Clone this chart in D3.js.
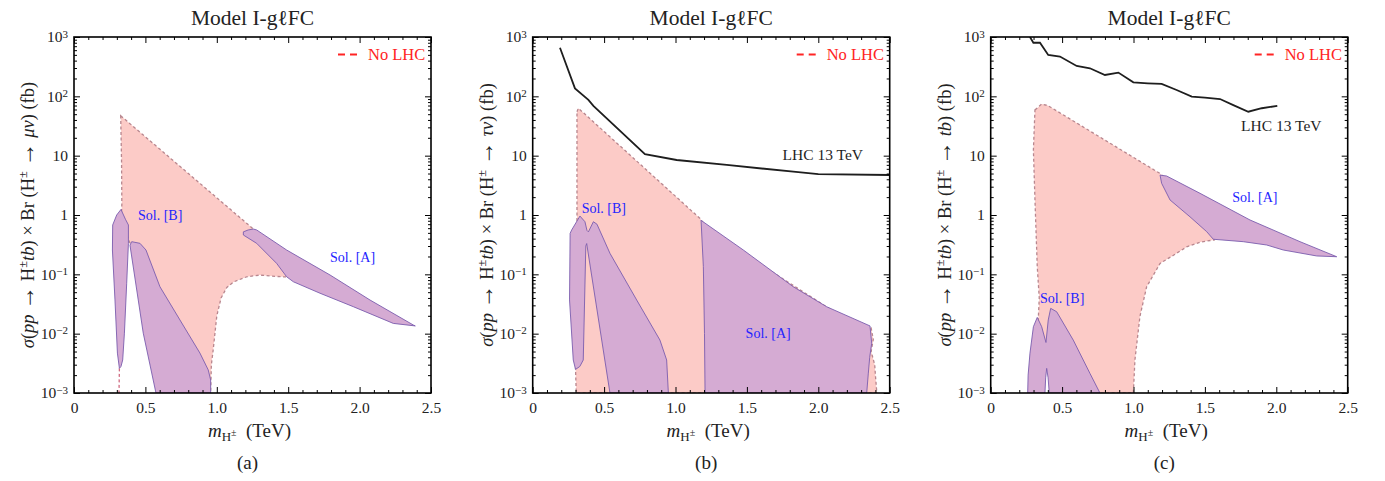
<!DOCTYPE html>
<html>
<head>
<meta charset="utf-8">
<script src="https://cdn.jsdelivr.net/npm/d3@7"></script>
<style>
body { margin: 0; background: #fff; }
svg { font-family: "Liberation Serif", "DejaVu Serif", serif; }
</style>
</head>
<body>
<div id="hook-chart"></div>
<script>
'use strict';

// axis ticks
var xTicks = [0, 0.5, 1.0, 1.5, 2.0, 2.5];
var xTickLabels = ['0', '0.5', '1.0', '1.5', '2.0', '2.5'];
var yTicks = [1e-3, 1e-2, 1e-1, 1, 10, 100, 1000];
var yTickLabels = [['10', '\u22123'], ['10', '\u22122'], ['10', '\u22121'], ['1', ''], ['10', ''], ['10', '2'], ['10', '3']];

var panelTags = ['(a)', '(b)', '(c)'];
var decayChannels = ['\u03bc\u03bd', '\u03c4\u03bd', 'tb'];

// (a)  H -> mu nu   [TeV, fb]
var noLhcA = [[0.327,47],[1.26,0.57],[1.45,0.17],[1.50,0.09],[1.42,0.092],[1.30,0.097],[1.21,0.091],
  [1.12,0.075],[1.07,0.06],[1.03,0.04],[1.0,0.02],[0.975,0.0054],[0.962,0.003],[0.957,0.001],
  [0.6,0.001],[0.5,0.01],[0.40,0.30],[0.33,0.8],[0.335,1.5],[0.333,8]];
var tailA = [[0.318,0.0026],[0.315,0.001]];
var solAa = [[1.186,0.52],[1.22,0.56],[1.256,0.58],[1.279,0.56],[1.489,0.257],[1.793,0.0975],
  [2.073,0.0369],[2.376,0.014],[2.39,0.0135],[2.236,0.0149],[1.956,0.0285],[1.723,0.048],
  [1.536,0.075],[1.489,0.091],[1.419,0.153],[1.279,0.333],[1.186,0.46]];
var solBa1 = [[0.329,1.24],[0.36,0.85],[0.381,0.68],[0.381,0.333],[0.369,0.0708],[0.353,0.0102],
  [0.341,0.0036],[0.329,0.0028],[0.318,0.0026],[0.304,0.0047],[0.287,0.037],[0.269,0.257],
  [0.271,0.68],[0.299,1.0]];
var solBa2 = [[0.404,0.355],[0.462,0.333],[0.504,0.257],[0.602,0.0617],[0.742,0.017],[0.882,0.0047],
  [0.94,0.00245],[0.957,0.00166],[0.957,0.001],[0.574,0.001],[0.485,0.0102],[0.392,0.31]];

// (b)  H -> tau nu
var lhcB = [[0.191,660],[0.296,136],[0.39,87],[0.425,69],[0.786,10.6],[1.008,8.45],[1.359,6.97],
  [1.825,5.37],[2.0,4.9],[2.5,4.72]];
var noLhcB = [[0.31,55],[0.32,63],[1.17,0.88],[1.25,0.5],[2.3,0.012],[2.37,0.0125],[2.385,0.008],
  [2.37,0.005],[2.395,0.003],[2.40,0.002],[2.41,0.001],[0.305,0.001],[0.30,0.0025],[0.31,0.5]];
var solAb = [[1.183,0.80],[1.475,0.257],[1.825,0.0617],[2.059,0.0284],[2.362,0.0135],[2.374,0.0069],
  [2.36,0.004],[2.35,0.0021],[2.339,0.001],[1.207,0.001],[1.203,0.01],[1.195,0.135],[1.179,0.82]];
var solBb = [[0.30,0.0025],[0.284,0.0036],[0.258,0.037],[0.262,0.49],[0.273,0.56],[0.331,0.96],
  [0.366,0.77],[0.38,0.55],[0.39,0.52],[0.425,0.77],[0.45,0.7],[0.541,0.226],[0.728,0.037],
  [0.891,0.0078],[0.938,0.0036],[0.95,0.001],[0.541,0.001],[0.378,0.33],[0.372,0.3],
  [0.354,0.0036],[0.33,0.0028]];

// (c)  H -> t b
var lhcC = [[0.275,1000],[0.299,800],[0.345,800],[0.403,498],[0.485,468],[0.602,325],[0.695,297],
  [0.80,229],[0.894,251],[0.999,172],[1.10,166],[1.197,162],[1.302,128],[1.408,99],[1.50,95],
  [1.606,90],[1.699,71],[1.804,55],[1.898,63],[2.007,69]];
var noLhcC = [[0.31,59],[0.357,74],[0.40,70],[1.186,5.0],[1.22,4.2],[1.55,0.5],[1.565,0.38],
  [1.47,0.35],[1.372,0.29],[1.28,0.21],[1.186,0.153],[1.092,0.0617],[1.045,0.0195],[1.01,0.0036],
  [0.999,0.001],[0.74,0.001],[0.58,0.005],[0.43,0.018],[0.39,0.005],[0.33,0.012],[0.34,0.04],
  [0.326,0.135],[0.31,1.8],[0.299,12.4]];
var solAc = [[1.186,4.7],[1.232,4.54],[1.466,2.32],[1.816,0.824],[2.166,0.355],[2.423,0.198],
  [2.283,0.204],[2.049,0.257],[1.933,0.312],[1.769,0.355],[1.559,0.39],[1.512,0.525],[1.396,0.93],
  [1.256,1.79],[1.197,3.42]];
var solBc = [[0.259,0.001],[0.262,0.002],[0.275,0.0047],[0.299,0.0131],[0.326,0.0188],[0.357,0.0131],
  [0.387,0.0071],[0.403,0.017],[0.42,0.0267],[0.462,0.0234],[0.578,0.0078],[0.695,0.00214],
  [0.765,0.001],[0.41,0.001],[0.402,0.0018],[0.392,0.0026],[0.385,0.0018],[0.38,0.001]];

// text labels [x TeV, y fb]
var solALabelPos = [[1.793,0.163],[1.491,0.0083],[1.692,1.67]];
var solBLabelPos = [[0.448,0.82],[0.343,1.07],[0.345,0.033]];
var lhcLabelPos = [null,[1.75,8.45],[1.753,26]];

var panels = [
  {left: 74, noLhc: noLhcA, tail: tailA, sols: [solAa, solBa1, solBa2], lhc: null},
  {left: 532.7, noLhc: noLhcB, tail: null, sols: [solAb, solBb], lhc: lhcB},
  {left: 990.7, noLhc: noLhcC, tail: null, sols: [solAc, solBc], lhc: lhcC}
];

var options = {
  width: 1385,
  height: 481,
  top: 37,
  plotW: 357,
  plotH: 356
};

var pinkFill = '#fccbc7',
  pinkEdge = '#b8868e',
  solFill = '#d5abd3',
  solEdge = '#7a5cae',
  blue = '#2424ff',
  red = '#ff2424';

var svg = d3.select('#hook-chart')
  .append('svg')
  .attr('width', options.width)
  .attr('height', options.height);

function drawPanel(p, k) {
  var g = svg.append('g')
    .attr('transform', 'translate(' + p.left + ',' + options.top + ')');

  var x = d3.scaleLinear().domain([0, 2.5]).range([0, options.plotW]);
  var y = d3.scaleLog().domain([1e-3, 1e3]).range([options.plotH, 0]);

  var clipId = 'clip-' + k;
  g.append('clipPath').attr('id', clipId)
    .append('rect').attr('width', options.plotW).attr('height', options.plotH);

  var area = g.append('g').attr('clip-path', 'url(#' + clipId + ')');
  var line = d3.line().x(function(d) { return x(d[0]); }).y(function(d) { return y(d[1]); });
  var closed = d3.line().curve(d3.curveLinearClosed)
    .x(function(d) { return x(d[0]); }).y(function(d) { return y(d[1]); });

  area.append('path')
    .attr('d', closed(p.noLhc))
    .style('fill', pinkFill)
    .style('stroke', pinkEdge)
    .style('stroke-width', 1.3)
    .style('stroke-dasharray', '3,2.5');

  if (p.tail) {
    area.append('path')
      .attr('d', line(p.tail))
      .style('fill', 'none')
      .style('stroke', '#d06a80')
      .style('stroke-width', 1.3)
      .style('stroke-dasharray', '3,2.5');
  }

  p.sols.forEach(function(s) {
    area.append('path')
      .attr('d', closed(s))
      .style('fill', solFill)
      .style('stroke', solEdge)
      .style('stroke-width', 0.9);
  });

  if (p.lhc) {
    area.append('path')
      .attr('d', line(p.lhc))
      .style('fill', 'none')
      .style('stroke', '#1e1e1e')
      .style('stroke-width', 1.8);
  }

  // labels inside the plot
  g.append('text')
    .attr('x', x(solALabelPos[k][0])).attr('y', y(solALabelPos[k][1]))
    .attr('font-size', 14).style('fill', blue).text('Sol. [A]');
  g.append('text')
    .attr('x', x(solBLabelPos[k][0])).attr('y', y(solBLabelPos[k][1]))
    .attr('font-size', 14).style('fill', blue).text('Sol. [B]');
  if (lhcLabelPos[k]) {
    g.append('text')
      .attr('x', x(lhcLabelPos[k][0])).attr('y', y(lhcLabelPos[k][1]))
      .attr('font-size', 15.5).style('fill', '#1e1e1e').text('LHC 13 TeV');
  }

  // legend
  g.append('line')
    .attr('x1', 264).attr('x2', 284).attr('y1', 17.5).attr('y2', 17.5)
    .style('stroke', red).style('stroke-width', 2).style('stroke-dasharray', '7,5');
  g.append('text')
    .attr('x', 294).attr('y', 23)
    .attr('font-size', 16.5).style('fill', red).text('No LHC');

  // ticks
  var xMinor = d3.range(1, 25).map(function(i) { return i / 10; })
    .filter(function(v) { return Math.abs(v * 2 - Math.round(v * 2)) > 1e-6; });
  var yMinor = [];
  [1e-3, 1e-2, 1e-1, 1, 10, 100].forEach(function(dec) {
    for (var m = 2; m < 10; m++) yMinor.push(dec * m);
  });

  function strip(sel) {
    sel.select('.domain').remove();
    sel.attr('font-family', null).attr('font-size', 15.5);
    sel.selectAll('.tick line').style('stroke', '#000').style('stroke-width', 1);
  }

  var bottom = g.append('g').attr('transform', 'translate(0,' + options.plotH + ')')
    .call(d3.axisBottom(x).tickValues(xTicks).tickSize(-6).tickPadding(9)
      .tickFormat(function(d, i) { return xTickLabels[i]; }));
  strip(bottom);
  bottom.selectAll('.tick text').style('fill', '#222');
  g.append('g').attr('transform', 'translate(0,' + options.plotH + ')')
    .call(d3.axisBottom(x).tickValues(xMinor).tickSize(-3).tickFormat('')).call(strip);
  g.append('g').call(d3.axisTop(x).tickValues(xTicks).tickSize(-6).tickFormat('')).call(strip);
  g.append('g').call(d3.axisTop(x).tickValues(xMinor).tickSize(-3).tickFormat('')).call(strip);

  var left = g.append('g')
    .call(d3.axisLeft(y).tickValues(yTicks).tickSize(-6).tickPadding(6)
      .tickFormat(function(d, i) { return yTickLabels[i][0]; }));
  strip(left);
  left.selectAll('.tick text').style('fill', '#222').each(function(d, i) {
    if (yTickLabels[i][1]) {
      d3.select(this).append('tspan')
        .attr('dy', '-0.45em').attr('font-size', 11).text(yTickLabels[i][1]);
    }
  });
  g.append('g').call(d3.axisLeft(y).tickValues(yMinor).tickSize(-3).tickFormat('')).call(strip);
  g.append('g').attr('transform', 'translate(' + options.plotW + ',0)')
    .call(d3.axisRight(y).tickValues(yTicks).tickSize(-6).tickFormat('')).call(strip);
  g.append('g').attr('transform', 'translate(' + options.plotW + ',0)')
    .call(d3.axisRight(y).tickValues(yMinor).tickSize(-3).tickFormat('')).call(strip);

  g.append('rect')
    .attr('width', options.plotW).attr('height', options.plotH)
    .style('fill', 'none').style('stroke', '#000').style('stroke-width', 1.6);

  // title
  g.append('text')
    .attr('x', options.plotW / 2).attr('y', -12)
    .attr('text-anchor', 'middle').attr('font-size', 21.5).style('fill', '#222')
    .text('Model I-g\u2113FC');

  // x label
  var xl = g.append('text')
    .attr('x', options.plotW / 2 - 3).attr('y', options.plotH + 44)
    .attr('text-anchor', 'middle').attr('font-size', 19).style('fill', '#222');
  xl.append('tspan').attr('font-style', 'italic').text('m');
  xl.append('tspan').attr('font-size', 13).attr('dy', 4).text('H');
  xl.append('tspan').attr('font-size', 10).attr('dy', -5).text('\u00b1');
  xl.append('tspan').attr('dy', 1).text('\u2002(TeV)');

  // panel tag
  g.append('text')
    .attr('x', options.plotW / 2 - 5).attr('y', options.plotH + 76)
    .attr('text-anchor', 'middle').attr('font-size', 19).style('fill', '#222')
    .text(panelTags[k]);

  // y label
  var yl = g.append('text')
    .attr('transform', 'translate(-40,' + options.plotH / 2 + ') rotate(-90)')
    .attr('text-anchor', 'middle').attr('font-size', 18.5).style('fill', '#222');
  var parts = [
    ['\u03c3', 'i'], ['(', ''], ['pp', 'i'], [' ', ''], ['\u2192', 'a'], [' H', ''], ['\u00b1', 's'], ['tb', 'i'],
    [') \u00d7 Br (H', ''], ['\u00b1', 's'], [' ', ''], ['\u2192', 'a'], [' ', ''], [decayChannels[k], 'i'], [') (fb)', '']
  ];
  var raised = false;
  parts.forEach(function(pt) {
    var t = yl.append('tspan').text(pt[0]);
    if (pt[1] === 'i') t.attr('font-style', 'italic');
    if (pt[1] === 'a') t.attr('font-size', 24);
    if (pt[1] === 's') { t.attr('font-size', 12.5).attr('dy', -7); raised = true; }
    else if (raised) { t.attr('dy', 7); raised = false; }
  });
}

panels.forEach(drawPanel);
</script>
</body>
</html>
